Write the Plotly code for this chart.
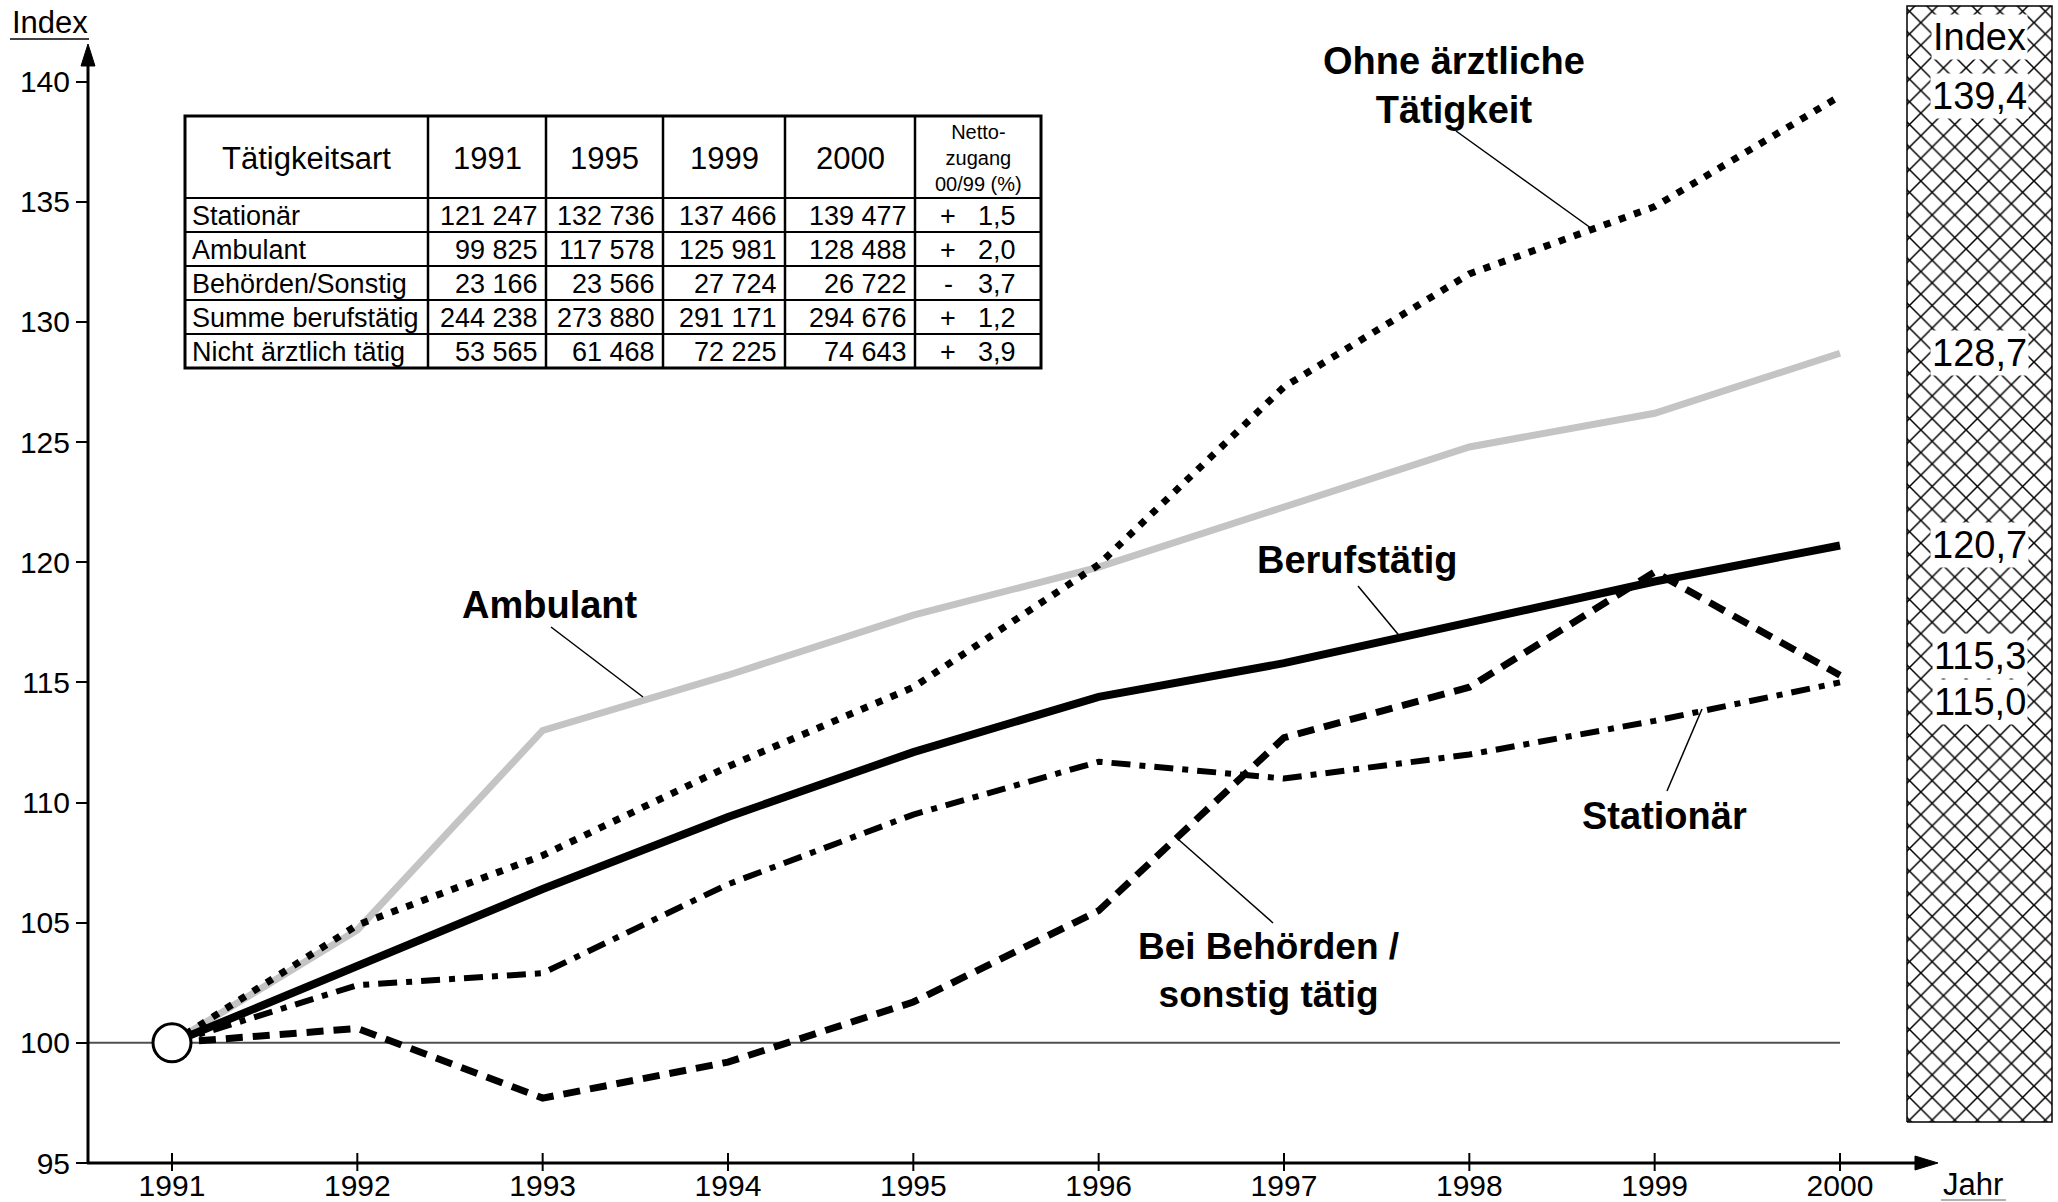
import plotly.graph_objects as go

# ---------------- data ----------------
years = list(range(1991, 2001))
ohne_aerztl = [100, 104.9, 107.8, 111.5, 114.8, 119.9, 127.3, 132.0, 134.8, 139.4]
ambulant = [100, 104.7, 113.0, 115.3, 117.8, 119.8, 122.3, 124.8, 126.2, 128.7]
berufstaetig = [100, 103.2, 106.4, 109.4, 112.1, 114.4, 115.8, 117.5, 119.2, 120.7]
stationaer = [100, 102.4, 102.9, 106.6, 109.5, 111.7, 111.0, 112.0, 113.4, 115.0]
behoerden = [100, 100.6, 97.7, 99.2, 101.7, 105.5, 112.7, 114.8, 119.6, 115.3]

y_ticks = [95, 100, 105, 110, 115, 120, 125, 130, 135, 140]

table_header = ["Tätigkeitsart", "1991", "1995", "1999", "2000", "Netto-<br>zugang<br>00/99 (%)"]
table_rows = ["Stationär", "Ambulant", "Behörden/Sonstig", "Summe berufstätig", "Nicht ärztlich tätig"]
t_1991 = [121247, 99825, 23166, 244238, 53565]
t_1995 = [132736, 117578, 23566, 273880, 61468]
t_1999 = [137466, 125981, 27724, 291171, 72225]
t_2000 = [139477, 128488, 26722, 294676, 74643]
t_netto = [1.5, 2.0, -3.7, 1.2, 3.9]

FONT = "Liberation Sans, Arial, Helvetica, sans-serif"

# ---------------- geometry helpers (pixel -> axis / paper) ----------------
W, H = 2058, 1202
XL, XR, YT, YB = 88, 2058, 0, 1180
X_RANGE = [1990.5468, 2001.1763]
PX_PER_UNIT = 1163 / 48.4
Y_RANGE = [143.4 - (YB - YT) / PX_PER_UNIT, 143.4]


def xp(px):
    return (px - XL) / (XR - XL)


def yp(py):
    return (YB - py) / (YB - YT)


def xd(px):
    return X_RANGE[0] + xp(px) * (X_RANGE[1] - X_RANGE[0])


def yd(py):
    return Y_RANGE[0] + yp(py) * (Y_RANGE[1] - Y_RANGE[0])


fig = go.Figure()

# hatched index box on the right
bx0, bx1, by0, by1 = 1907, 2052, 6, 1122
fig.add_trace(go.Scatter(
    x=[xd(bx0), xd(bx1), xd(bx1), xd(bx0), xd(bx0)],
    y=[yd(by1), yd(by1), yd(by0), yd(by0), yd(by1)],
    mode="lines", fill="toself", fillcolor="white",
    fillpattern=dict(shape="x", size=16, solidity=0.18, fgcolor="black",
                     bgcolor="white", fillmode="replace"),
    line=dict(color="black", width=1.5), hoverinfo="skip", showlegend=False))

series = [
    ("Ambulant", ambulant, dict(color="#c4c4c4", width=7)),
    ("Berufstätig", berufstaetig, dict(color="black", width=8)),
    ("Stationär", stationaer, dict(color="black", width=6, dash="19px,9px,6px,9px")),
    ("Bei Behörden / sonstig tätig", behoerden, dict(color="black", width=7, dash="17px,10px")),
    ("Ohne ärztliche Tätigkeit", ohne_aerztl, dict(color="black", width=7, dash="7px,9px")),
]
for name, vals, ln in series:
    fig.add_trace(go.Scatter(x=years, y=vals, mode="lines", name=name, line=ln,
                             hoverinfo="skip", showlegend=False))

# base point circle
fig.add_trace(go.Scatter(x=[years[0]], y=[berufstaetig[0]], mode="markers",
                         marker=dict(size=38, color="white", line=dict(color="black", width=3)),
                         cliponaxis=False, hoverinfo="skip", showlegend=False))

shapes = []
annotations = []


def pline(x0, y0, x1, y1, width=1.5, color="black", layer="above"):
    shapes.append(dict(type="line", xref="paper", yref="paper",
                       x0=xp(x0), y0=yp(y0), x1=xp(x1), y1=yp(y1),
                       line=dict(color=color, width=width), layer=layer))


def ptext(px, py, text, size, bold=False, xanchor="center", bg=None, yshift=0):
    a = dict(xref="paper", yref="paper", x=xp(px), y=yp(py), text=("<b>%s</b>" % text) if bold else text,
             showarrow=False, xanchor=xanchor, yanchor="middle",
             font=dict(family=FONT, size=size, color="black"), yshift=yshift)
    if bg:
        a.update(bgcolor=bg, borderpad=1)
    annotations.append(a)


# reference line at 100
shapes.append(dict(type="line", xref="paper", yref="y", x0=0, x1=xp(1840), y0=100, y1=100,
                   line=dict(color="#505050", width=2), layer="below"))

# axes with arrows
pline(88, 1163, 88, 62, width=3)
pline(87, 1163, 1920, 1163, width=3)
shapes.append(dict(type="path", xref="paper", yref="paper",
                   path="M %f %f L %f %f L %f %f Z" % (xp(88), yp(44), xp(81), yp(66), xp(95), yp(66)),
                   fillcolor="black", line=dict(color="black", width=1)))
shapes.append(dict(type="path", xref="paper", yref="paper",
                   path="M %f %f L %f %f L %f %f Z" % (xp(1938), yp(1163), xp(1915), yp(1156), xp(1915), yp(1170)),
                   fillcolor="black", line=dict(color="black", width=1)))
# crossing x ticks
for yr in years:
    shapes.append(dict(type="line", xref="x", yref="paper", x0=yr, x1=yr, y0=yp(1171), y1=yp(1153),
                       line=dict(color="black", width=2)))

# axis titles
ptext(50, 22, "Index", 31)
pline(10, 39, 89, 39, width=1.5)
ptext(1973, 1184, "Jahr", 31)
pline(1941, 1200, 2006, 1200, width=1.5, color="#999999")

# series labels with leader lines
ptext(1454, 86, "Ohne ärztliche<br>Tätigkeit", 38, bold=True)
pline(1456, 131, 1595, 231)
ptext(550, 605, "Ambulant", 38, bold=True)
pline(551, 627, 643, 697)
ptext(1357, 560, "Berufstätig", 38, bold=True)
pline(1358, 586, 1402, 639)
ptext(1664, 816, "Stationär", 38, bold=True)
pline(1667, 791, 1702, 709)
ptext(1268, 970, "Bei Behörden /<br>sonstig tätig", 37, bold=True)
pline(1273, 923, 1179, 840)

# index values in the hatched box
bxc = (bx0 + bx1) / 2
ptext(bxc, 37, "Index", 38, bg="white")
end_vals = [ohne_aerztl[-1], ambulant[-1], berufstaetig[-1], behoerden[-1], stationaer[-1]]
shifts = [0, 0, 0, 19, -20]
for v, s in zip(end_vals, shifts):
    annotations.append(dict(xref="paper", yref="y", x=xp(bxc), y=v, yshift=s,
                            text=("%.1f" % v).replace(".", ","), showarrow=False,
                            xanchor="center", yanchor="middle", bgcolor="white", borderpad=1,
                            font=dict(family=FONT, size=38, color="black")))

# ---------------- table ----------------
col_edges = [185, 428, 546, 663, 785, 915, 1041]
row_edges = [116, 198, 232, 266, 300, 334, 368]
for xe in col_edges[1:-1]:
    pline(xe, row_edges[0], xe, row_edges[-1], width=2.5)
for ye in row_edges[1:-1]:
    pline(col_edges[0], ye, col_edges[-1], ye, width=2)
shapes.append(dict(type="rect", xref="paper", yref="paper",
                   x0=xp(col_edges[0]), x1=xp(col_edges[-1]), y0=yp(row_edges[-1]), y1=yp(row_edges[0]),
                   line=dict(color="black", width=3), fillcolor="rgba(0,0,0,0)"))

hy = (row_edges[0] + row_edges[1]) / 2
for i, h in enumerate(table_header):
    cx = (col_edges[i] + col_edges[i + 1]) / 2
    ptext(cx, hy + 1, h, 20 if i == 5 else 31)


def fmt(n):
    return "{:,}".format(n).replace(",", " ")


num_cols = [t_1991, t_1995, t_1999, t_2000]
for r, name in enumerate(table_rows):
    cy = (row_edges[r + 1] + row_edges[r + 2]) / 2 + 1
    ptext(col_edges[0] + 5, cy, name, 27, xanchor="left")
    for c, col in enumerate(num_cols):
        ptext(col_edges[c + 2] - 6, cy, fmt(col[r]), 27, xanchor="right")
    v = t_netto[r]
    ptext(948, cy, "+" if v >= 0 else "-", 27)
    ptext(1018, cy, ("%.1f" % abs(v)).replace(".", ","), 27, xanchor="right")

fig.update_layout(
    width=W, height=H, autosize=False,
    margin=dict(l=XL, r=W - XR, t=YT, b=H - YB, pad=0),
    paper_bgcolor="white", plot_bgcolor="white", showlegend=False,
    font=dict(family=FONT, color="black"),
    shapes=shapes, annotations=annotations,
    xaxis=dict(range=X_RANGE, tickvals=years, ticktext=[str(y) for y in years],
               ticks="", anchor="free", position=yp(1165),
               showline=False, showgrid=False, zeroline=False, automargin=False,
               tickfont=dict(family=FONT, size=30, color="black")),
    yaxis=dict(range=Y_RANGE, tickvals=y_ticks, ticktext=[str(t) for t in y_ticks],
               ticks="outside", ticklen=11, tickwidth=2, tickcolor="black",
               showline=False, showgrid=False, zeroline=False, automargin=False,
               tickfont=dict(family=FONT, size=30, color="black")),
)

fig.write_html("out.html", config={"displayModeBar": False},
               post_script="document.body.style.margin='0px';")
